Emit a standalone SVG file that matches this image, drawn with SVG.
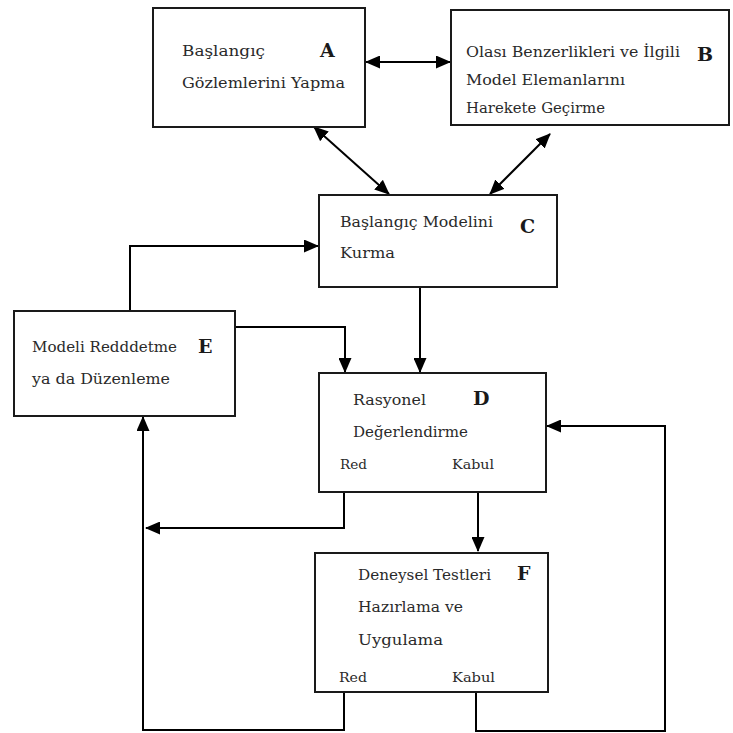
<svg xmlns="http://www.w3.org/2000/svg" width="733" height="733" viewBox="0 0 733 733">
<defs>
<style>
.box{fill:#fff;stroke:#1a1a1a;stroke-width:2}
.t{font-family:"DejaVu Serif","Liberation Serif",serif;font-size:15px;fill:#2a2a2a}
.s{font-family:"DejaVu Serif","Liberation Serif",serif;font-size:13.5px;fill:#2a2a2a}
.L{font-family:"DejaVu Serif","Liberation Serif",serif;font-size:19px;font-weight:bold;fill:#1a1a1a}
.c{fill:none;stroke:#000;stroke-width:2}
</style>
<marker id="ah" markerUnits="userSpaceOnUse" markerWidth="15" markerHeight="13" refX="14" refY="6.5" orient="auto-start-reverse" viewBox="0 0 15 13">
<path d="M0,0 L15,6.5 L0,13 z" fill="#000"/>
</marker>
</defs>
<rect width="733" height="733" fill="#fff"/>
<g id="connectors">
<line class="c" x1="366" y1="62" x2="450" y2="62" marker-start="url(#ah)" marker-end="url(#ah)"/>
<line class="c" x1="314" y1="127" x2="389" y2="194" marker-start="url(#ah)" marker-end="url(#ah)"/>
<line class="c" x1="550" y1="134" x2="490" y2="194" marker-start="url(#ah)" marker-end="url(#ah)"/>
<polyline class="c" points="130,311 130,246 318,246" marker-end="url(#ah)"/>
<polyline class="c" points="232,327 345,327 345,372" marker-end="url(#ah)"/>
<line class="c" x1="420" y1="288" x2="420" y2="372" marker-end="url(#ah)"/>
<polyline class="c" points="344,488 344,528 146,528" marker-end="url(#ah)"/>
<line class="c" x1="478" y1="487" x2="478" y2="551" marker-end="url(#ah)"/>
<polyline class="c" points="344,690 344,730 143,730 143,417" marker-end="url(#ah)"/>
<polyline class="c" points="476,690 476,731 665,731 665,426 547,426" marker-end="url(#ah)"/>
</g>
<g id="A">
<rect class="box" x="153" y="8" width="212" height="119"/>
<text class="t" x="182" y="56" textLength="83" lengthAdjust="spacingAndGlyphs">Başlangıç</text>
<text class="L" x="320" y="57">A</text>
<text class="t" x="182" y="88" textLength="163" lengthAdjust="spacingAndGlyphs">Gözlemlerini Yapma</text>
</g>
<g id="B">
<rect class="box" x="451" y="10" width="278" height="115"/>
<text class="t" x="466" y="57" textLength="214" lengthAdjust="spacingAndGlyphs">Olası Benzerlikleri ve İlgili</text>
<text class="L" x="697" y="61">B</text>
<text class="t" x="466" y="85" textLength="159" lengthAdjust="spacingAndGlyphs">Model Elemanlarını</text>
<text class="t" x="466" y="113" textLength="139" lengthAdjust="spacingAndGlyphs">Harekete Geçirme</text>
</g>
<g id="C">
<rect class="box" x="319" y="195" width="238" height="92"/>
<text class="t" x="340" y="227" textLength="153" lengthAdjust="spacingAndGlyphs">Başlangıç Modelini</text>
<text class="L" x="520" y="233">C</text>
<text class="t" x="340" y="258" textLength="55" lengthAdjust="spacingAndGlyphs">Kurma</text>
</g>
<g id="E">
<rect class="box" x="14" y="311" width="221" height="105"/>
<text class="t" x="32" y="352" textLength="145" lengthAdjust="spacingAndGlyphs">Modeli Redddetme</text>
<text class="L" x="198" y="353">E</text>
<text class="t" x="32" y="384" textLength="138" lengthAdjust="spacingAndGlyphs">ya da Düzenleme</text>
</g>
<g id="D">
<rect class="box" x="319" y="373" width="227" height="119"/>
<text class="t" x="353" y="405" textLength="73" lengthAdjust="spacingAndGlyphs">Rasyonel</text>
<text class="L" x="473" y="405">D</text>
<text class="t" x="353" y="437" textLength="115" lengthAdjust="spacingAndGlyphs">Değerlendirme</text>
<text class="s" x="340" y="469" textLength="27" lengthAdjust="spacingAndGlyphs">Red</text>
<text class="s" x="452" y="469" textLength="42" lengthAdjust="spacingAndGlyphs">Kabul</text>
</g>
<g id="F">
<rect class="box" x="315" y="553" width="233" height="139"/>
<text class="t" x="358" y="580" textLength="133" lengthAdjust="spacingAndGlyphs">Deneysel Testleri</text>
<text class="L" x="517" y="580">F</text>
<text class="t" x="358" y="612" textLength="105" lengthAdjust="spacingAndGlyphs">Hazırlama ve</text>
<text class="t" x="358" y="645" textLength="85" lengthAdjust="spacingAndGlyphs">Uygulama</text>
<text class="s" x="339" y="682" textLength="28" lengthAdjust="spacingAndGlyphs">Red</text>
<text class="s" x="452" y="682" textLength="43" lengthAdjust="spacingAndGlyphs">Kabul</text>
</g>
</svg>
